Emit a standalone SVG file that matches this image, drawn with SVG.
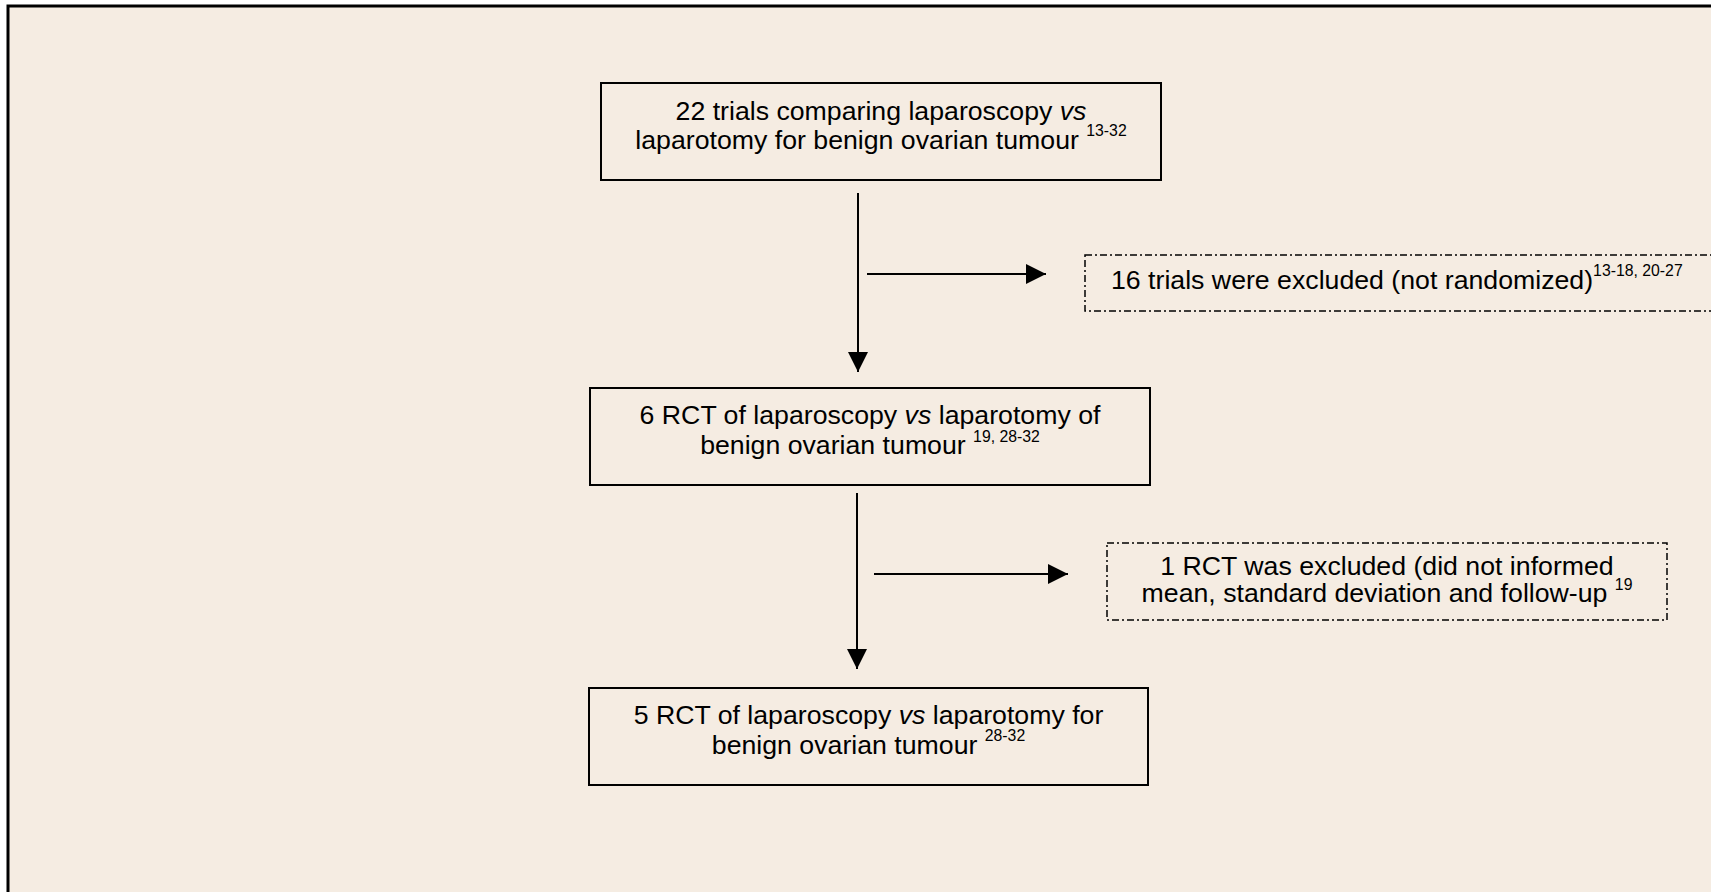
<svg xmlns="http://www.w3.org/2000/svg" width="1711" height="892" viewBox="0 0 1711 892">
<defs>
<style>
.box{fill:none;stroke:#000;stroke-width:2}
.dbox{fill:none;stroke:#000;stroke-width:1.5;stroke-dasharray:7 3 2 3}
.t{font-family:"Liberation Sans",Arial,sans-serif;font-size:26.7px;fill:#000}
.sup{font-size:15.8px}
.conn{stroke:#000;stroke-width:2;fill:none;marker-end:url(#ah)}
</style>
<marker id="ah" markerUnits="userSpaceOnUse" markerWidth="20" markerHeight="20" refX="20" refY="10" orient="auto">
<path d="M0,0 L20,10 L0,20 z" fill="#000"/>
</marker>
</defs>
<rect x="0" y="0" width="1711" height="892" fill="#ffffff"/>
<rect id="frame" x="8" y="6" width="1760" height="950" fill="#f5ece2" stroke="#000" stroke-width="3"/>

<g id="connectors">
<line class="conn" x1="858" y1="193" x2="858" y2="372"/>
<line class="conn" x1="867" y1="274" x2="1046" y2="274"/>
<line class="conn" x1="857" y1="493" x2="857" y2="669"/>
<line class="conn" x1="874" y1="574" x2="1068" y2="574"/>
</g>

<g id="n1">
<rect class="box" x="601" y="83" width="560" height="97"/>
<text class="t" x="881" y="120" text-anchor="middle">22 trials comparing laparoscopy <tspan font-style="italic">vs</tspan></text>
<text class="t" x="881" y="149" text-anchor="middle">laparotomy for benign ovarian tumour <tspan class="sup" dy="-13">13-32</tspan></text>
</g>

<g id="n2">
<rect class="dbox" x="1085" y="255" width="640" height="56"/>
<text class="t" x="1111" y="289">16 trials were excluded (not randomized)<tspan class="sup" dy="-13">13-18, 20-27</tspan></text>
</g>

<g id="n3">
<rect class="box" x="590" y="388" width="560" height="97"/>
<text class="t" x="870" y="424" text-anchor="middle">6 RCT of laparoscopy <tspan font-style="italic">vs</tspan> laparotomy of</text>
<text class="t" x="870" y="454" text-anchor="middle">benign ovarian tumour <tspan class="sup" dy="-12">19, 28-32</tspan></text>
</g>

<g id="n4">
<rect class="dbox" x="1107" y="543" width="560" height="77"/>
<text class="t" x="1387" y="575" text-anchor="middle">1 RCT was excluded (did not informed</text>
<text class="t" x="1387" y="602" text-anchor="middle">mean, standard deviation and follow-up <tspan class="sup" dy="-12">19</tspan></text>
</g>

<g id="n5">
<rect class="box" x="589" y="688" width="559" height="97"/>
<text class="t" x="868.5" y="724" text-anchor="middle">5 RCT of laparoscopy <tspan font-style="italic">vs</tspan> laparotomy for</text>
<text class="t" x="868.5" y="754" text-anchor="middle">benign ovarian tumour <tspan class="sup" dy="-13">28-32</tspan></text>
</g>
</svg>
